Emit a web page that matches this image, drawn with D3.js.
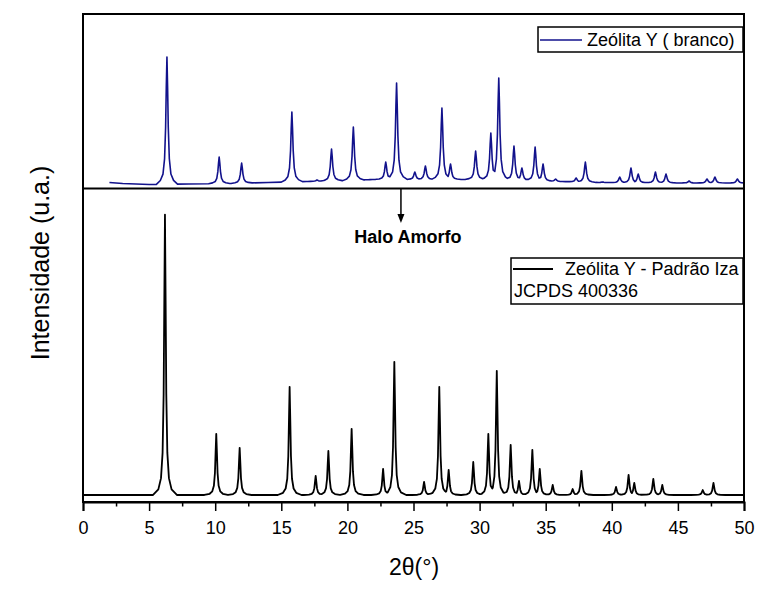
<!DOCTYPE html>
<html>
<head>
<meta charset="utf-8">
<script src="https://cdn.jsdelivr.net/npm/d3@7"></script>
<style>
  html, body { margin: 0; padding: 0; background: #ffffff; }
  svg { display: block; font-family: "Liberation Sans", Arial, sans-serif; }
</style>
</head>
<body>
<svg id="chart" width="759" height="589"></svg>
<script>
// ---------------- DATA ----------------
// Zeólita Y (branco) — peak positions (2θ, °) and apex intensities (a.u.)
const topPeakPos = [6.35, 10.3, 12.0, 15.8, 17.7, 18.8, 20.45, 21.4, 22.9, 23.72, 25.1, 25.9, 27.15, 27.8,
                    29.7, 30.85, 31.45, 32.6, 33.2, 34.2, 34.8, 35.75, 37.3, 38.0, 39.3, 40.6, 41.45, 42.0,
                    43.3, 44.1, 45.85, 47.2, 47.8, 49.5];
const topPeakInt = [1270, 270, 210, 720, 40, 350, 570, 40, 220, 1010, 120, 180, 760, 200,
                    330, 510, 1060, 380, 160, 370, 200, 50, 60, 220, 20, 70, 160, 100,
                    120, 100, 30, 50, 70, 50];
// Zeólita Y (branco) — background level
const topBgX = [2, 3, 5, 8, 11, 14, 17, 20, 22, 25, 28, 31, 34, 36, 39, 42, 46, 50];
const topBgY = [15, 5, -5, 0, 5, 15, 25, 35, 45, 45, 45, 45, 35, 25, 15, 12, 10, 10];

// Zeólita Y - Padrão Iza (JCPDS 400336) — peak positions and intensities
const botPeakPos = [6.2, 10.08, 11.85, 15.63, 17.6, 18.56, 20.32, 22.7, 23.55, 25.8, 26.95, 27.66, 29.52,
                    30.66, 31.3, 32.35, 32.98, 33.99, 34.55, 35.53, 37.04, 37.7, 40.32, 41.27, 41.7,
                    43.14, 43.82, 46.88, 47.69];
const botPeakInt = [2800, 610, 470, 1080, 190, 440, 660, 260, 1330, 130, 1080, 250, 330,
                    610, 1240, 500, 140, 450, 260, 100, 60, 240, 80, 200, 120,
                    160, 100, 50, 120];
const botBgX = [0, 50];
const botBgY = [0, 0];

const xTicks = [0, 5, 10, 15, 20, 25, 30, 35, 40, 45, 50];
const xMinorTicks = [2.5, 7.5, 12.5, 17.5, 22.5, 27.5, 32.5, 37.5, 42.5, 47.5];

const legendTop = "Zeólita Y ( branco)";
const legendBot = ["Zeólita Y - Padrão Iza", "JCPDS 400336"];
const annotText = "Halo Amorfo";
const annotPos = 24.05;
const xTitle = "2θ(°)";
const yTitle = "Intensidade (u.a.)";

// ---------------- LAYOUT / STYLE ----------------
const L = 83, R = 744, T = 14, MID = 188.5, B = 502;
const blue = "#12128c";

// peak profile (style): offsets in degrees and relative heights
const topShapeOff  = [-0.8, -0.5, -0.3, -0.18, -0.1, -0.05, 0, 0.05, 0.1, 0.18, 0.3, 0.5, 0.8];
const topShapeFrac = [0, 0.03, 0.08, 0.2, 0.45, 0.76, 1, 0.76, 0.45, 0.2, 0.08, 0.03, 0];
const botShapeOff  = [-0.9, -0.5, -0.3, -0.18, -0.1, -0.05, 0, 0.05, 0.1, 0.18, 0.3, 0.5, 0.9];
const botShapeFrac = [0, 0.02, 0.06, 0.15, 0.36, 0.69, 1, 0.69, 0.36, 0.15, 0.06, 0.02, 0];

const svg = d3.select("#chart");
svg.append("rect").attr("width", 759).attr("height", 589).attr("fill", "#ffffff");

const x = d3.scaleLinear().domain([0, 50]).range([L, R]);
const yTop = d3.scaleLinear().domain([-45, 1700]).range([MID, T]);
const yBot = d3.scaleLinear().domain([-70, 3060]).range([B, MID]);

function buildSeries(pos, hts, bgX, bgY, off, frac, x0, x1) {
  const bg = d3.scaleLinear().domain(bgX).range(bgY).clamp(true);
  const shape = d3.scaleLinear().domain(off).range(frac).clamp(true);
  let xs = bgX.slice();
  pos.forEach(p => off.forEach(o => xs.push(+(p + o).toFixed(4))));
  xs = Array.from(new Set(xs)).filter(v => v >= x0 && v <= x1).sort((a, b) => a - b);
  return xs.map(v => {
    let m = 0;
    pos.forEach((p, i) => {
      const s = (hts[i] - bg(p)) * shape(v - p);
      if (s > m) m = s;
    });
    return [v, bg(v) + m];
  });
}

const topSeries = buildSeries(topPeakPos, topPeakInt, topBgX, topBgY, topShapeOff, topShapeFrac, 2, 50);
const botSeries = buildSeries(botPeakPos, botPeakInt, botBgX, botBgY, botShapeOff, botShapeFrac, 0, 50);

const clipTop = svg.append("clipPath").attr("id", "clipTop")
  .append("rect").attr("x", L).attr("y", T).attr("width", R - L).attr("height", MID - T);
const clipBot = svg.append("clipPath").attr("id", "clipBot")
  .append("rect").attr("x", L).attr("y", MID).attr("width", R - L).attr("height", B - MID);

svg.append("path")
  .datum(topSeries)
  .attr("clip-path", "url(#clipTop)")
  .attr("fill", "none")
  .attr("stroke", blue)
  .attr("stroke-width", 1.6)
  .attr("stroke-linejoin", "round")
  .attr("d", d3.line().x(d => x(d[0])).y(d => yTop(d[1])));

svg.append("path")
  .datum(botSeries)
  .attr("clip-path", "url(#clipBot)")
  .attr("fill", "none")
  .attr("stroke", "#000")
  .attr("stroke-width", 1.8)
  .attr("stroke-linejoin", "round")
  .attr("d", d3.line().x(d => x(d[0])).y(d => yBot(d[1])));

// frames
svg.append("rect").attr("x", L).attr("y", T).attr("width", R - L).attr("height", B - T)
  .attr("fill", "none").attr("stroke", "#000").attr("stroke-width", 2);
svg.append("line").attr("x1", L).attr("x2", R).attr("y1", MID).attr("y2", MID)
  .attr("stroke", "#000").attr("stroke-width", 2);

// x axis
const xAxis = d3.axisBottom(x).tickValues(xTicks).tickSize(9).tickPadding(10).tickFormat(d3.format("d"));
const gx = svg.append("g").attr("transform", `translate(0,${B})`).call(xAxis);
gx.select(".domain").attr("stroke", "#000").attr("stroke-width", 2);
gx.selectAll(".tick line").attr("stroke", "#000").attr("stroke-width", 1.5);
gx.selectAll(".tick text").attr("font-size", 18).attr("fill", "#000")
  .attr("font-family", "'Liberation Sans', Arial, sans-serif");
const gxm = svg.append("g").attr("transform", `translate(0,${B})`)
  .call(d3.axisBottom(x).tickValues(xMinorTicks).tickSize(4.5).tickFormat(""));
gxm.select(".domain").remove();
gxm.selectAll(".tick line").attr("stroke", "#000").attr("stroke-width", 1.5);

// axis titles
svg.append("text").attr("x", 414).attr("y", 575).attr("text-anchor", "middle")
  .attr("font-size", 23).attr("fill", "#000").text(xTitle);
svg.append("text").attr("transform", "translate(49,263) rotate(-90)").attr("text-anchor", "middle")
  .attr("font-size", 25).attr("fill", "#000").text(yTitle);

// legend top
svg.append("rect").attr("x", 538).attr("y", 27).attr("width", 205).attr("height", 25)
  .attr("fill", "#fff").attr("stroke", "#000").attr("stroke-width", 1.5);
svg.append("line").attr("x1", 540).attr("x2", 582).attr("y1", 40).attr("y2", 40)
  .attr("stroke", blue).attr("stroke-width", 1.6);
svg.append("text").attr("x", 587).attr("y", 46).attr("font-size", 18).attr("fill", "#000").text(legendTop);

// legend bottom
svg.append("rect").attr("x", 511).attr("y", 258).attr("width", 232).attr("height", 46)
  .attr("fill", "#fff").attr("stroke", "#000").attr("stroke-width", 1.5);
svg.append("line").attr("x1", 513).attr("x2", 553).attr("y1", 269).attr("y2", 269)
  .attr("stroke", "#000").attr("stroke-width", 1.8);
svg.append("text").attr("x", 565).attr("y", 275).attr("font-size", 18).attr("fill", "#000").text(legendBot[0]);
svg.append("text").attr("x", 514).attr("y", 297).attr("font-size", 18).attr("fill", "#000").text(legendBot[1]);

// annotation
const ax = x(annotPos);
svg.append("line").attr("x1", ax).attr("x2", ax).attr("y1", MID).attr("y2", 216)
  .attr("stroke", "#000").attr("stroke-width", 1.5);
svg.append("path").attr("d", `M${ax - 3.5},214 L${ax + 3.5},214 L${ax},223 Z`).attr("fill", "#000");
svg.append("text").attr("x", ax + 7).attr("y", 243).attr("text-anchor", "middle")
  .attr("font-size", 18).attr("font-weight", "bold").attr("fill", "#000").text(annotText);
</script>
</body>
</html>
